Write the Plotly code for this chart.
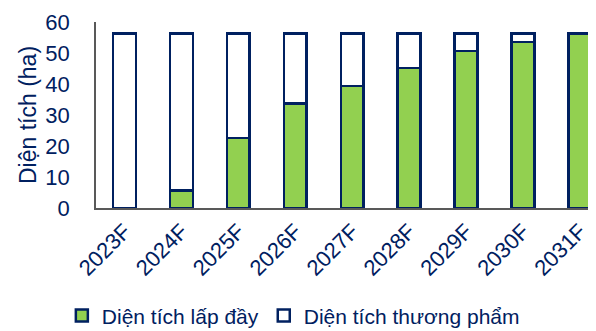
import plotly.graph_objects as go

years = ["2023F", "2024F", "2025F", "2026F", "2027F", "2028F", "2029F", "2030F", "2031F"]
filled = [0.0, 5.6, 22.6, 33.7, 39.4, 45.1, 50.7, 53.6, 56.3]
commercial = [56.3, 50.7, 33.7, 22.6, 16.9, 11.2, 5.6, 2.7, 0.0]

navy = "#002060"
fam = "Liberation Sans, Arial, sans-serif"
font = dict(family=fam, size=21, color=navy)
tickfont = dict(family=fam, size=22, color=navy)

fig = go.Figure()
fig.add_trace(go.Bar(x=years, y=filled, name="Diện tích lấp đầy", width=0.4,
                     marker=dict(color="#92D050", line=dict(color=navy, width=2.5))))
fig.add_trace(go.Bar(x=years, y=commercial, name="Diện tích thương phẩm", width=0.4,
                     marker=dict(color="white", line=dict(color=navy, width=2.5))))

fig.update_layout(
    barmode="stack",
    width=596, height=331,
    margin=dict(l=88, r=2, t=14, b=123),
    plot_bgcolor="white", paper_bgcolor="white",
    font=font,
    showlegend=True,
    legend=dict(orientation="h", x=0.39, xanchor="center", y=-0.47, yanchor="top",
                font=font, itemwidth=30, traceorder="normal", tracegroupgap=0),
    xaxis=dict(tickangle=-45, showline=True, linecolor="#595959", linewidth=1.5,
               range=[-0.5, 8.39], showgrid=False, ticks="", tickfont=tickfont),
    yaxis=dict(range=[0, 60], dtick=10, showline=True, linecolor="#595959", linewidth=1.5,
               showgrid=False, ticks="", tickfont=tickfont, ticklabelstandoff=20,
               title=dict(text="Diện tích (ha)", font=dict(family=fam, size=23, color=navy),
                          standoff=2)),
)
fig.write_html("out.html")
